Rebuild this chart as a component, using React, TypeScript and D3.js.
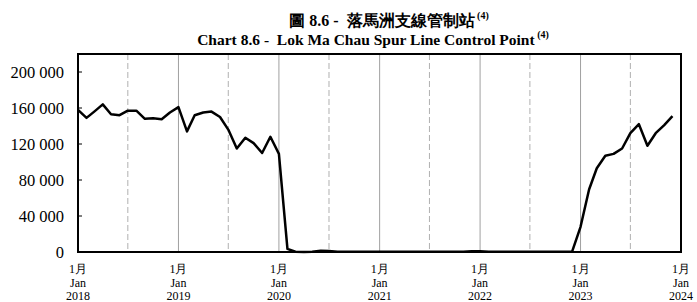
import * as d3 from "d3";

// monthly values, Jan 2018 - Dec 2023
const months = d3.timeMonths(new Date(2018, 0, 1), new Date(2024, 0, 1));
const values2018 = [158000, 149000, 156000, 164000, 153000, 152000, 157000, 157000, 148000, 148500, 147500, 155000];
const values2019 = [161000, 134000, 152000, 155000, 156000, 150000, 136000, 115000, 127000, 121000, 110000, 128000];
const values2020 = [109000, 3500, 300, 100, 400, 1500, 1000, 300, 200, 200, 200, 200];
const values2021 = [200, 200, 200, 200, 200, 200, 200, 200, 200, 200, 300, 800];
const values2022 = [800, 200, 200, 200, 200, 200, 200, 200, 200, 200, 200, 200];
const values2023 = [28000, 69500, 93000, 107000, 109000, 115000, 132000, 142000, 118000, 132000, 141000, 151000];
const values = [...values2018, ...values2019, ...values2020, ...values2021, ...values2022, ...values2023];

const yTicks = [0, 40000, 80000, 120000, 160000, 200000];
const xTickYears = [2018, 2019, 2020, 2021, 2022, 2023, 2024];

const W = 697;
const H = 302;
const left = 78;
const right = 681;
const top = 54;
const bottom = 252;

const serif = "Liberation Serif";

const fmt = (v: number) => d3.format(",")(v).replace(/,/g, " ");

export default function App() {
  const x = d3
    .scaleTime()
    .domain([new Date(2018, 0, 1), new Date(2024, 0, 1)])
    .range([left, right]);
  const y = d3.scaleLinear().domain([0, 220000]).range([bottom, top]);

  const line = d3
    .line<number>()
    .x((_d, i) => x(months[i]))
    .y((d) => y(d));

  const janLines = xTickYears.slice(1, -1).map((yr) => new Date(yr, 0, 1));
  const julLines = xTickYears.slice(0, -1).map((yr) => new Date(yr, 6, 1));

  return (
    <svg
      width={W}
      height={H}
      style={{ position: "absolute", left: 0, top: 0, background: "#fff", fontFamily: serif }}
    >
      <rect width={W} height={H} fill="#fff" />
      {/* title */}
      <text x={389} y={26} textAnchor="middle" fontWeight="bold" fontSize={16} style={{ fontFamily: serif }}>
        <tspan>{"圖 8.6 -\u00a0 落馬洲支線管制站"}</tspan>
        <tspan fontSize={10} dy={-7}>{"\u00a0(4)"}</tspan>
      </text>
      <text x={373} y={45} textAnchor="middle" fontWeight="bold" fontSize={15.5} style={{ fontFamily: serif }}>
        <tspan>{"Chart 8.6 -\u00a0 Lok Ma Chau Spur Line Control Point"}</tspan>
        <tspan fontSize={10} dy={-7}>{"\u00a0(4)"}</tspan>
      </text>

      {/* grid */}
      {julLines.map((d, i) => (
        <line
          key={"jul" + i}
          x1={x(d)}
          x2={x(d)}
          y1={top}
          y2={bottom}
          stroke="#b0b0b0"
          strokeDasharray="6,3"
          strokeWidth={1}
        />
      ))}
      {janLines.map((d, i) => (
        <line key={"jan" + i} x1={x(d)} x2={x(d)} y1={top} y2={bottom} stroke="#a0a0a0" strokeWidth={1} />
      ))}

      {/* y ticks */}
      {yTicks.map((t) => (
        <g key={t}>
          <line x1={left} x2={left + 4} y1={y(t)} y2={y(t)} stroke="#000" strokeWidth={1} />
          <text x={64} y={y(t)} dy="0.35em" textAnchor="end" fontSize={16.5} style={{ fontFamily: serif }}>
            {fmt(t)}
          </text>
        </g>
      ))}

      {/* x labels */}
      {xTickYears.map((yr) => {
        const px = x(new Date(yr, 0, 1));
        return (
          <g key={yr} fontSize={12} textAnchor="middle" style={{ fontFamily: serif }}>
            <text x={px} y={273}>1月</text>
            <text x={px} y={287}>Jan</text>
            <text x={px} y={300}>{yr}</text>
          </g>
        );
      })}

      {/* data */}
      <path d={line(values) || ""} fill="none" stroke="#000" strokeWidth={2.5} strokeLinejoin="round" />

      {/* frame */}
      <rect x={left} y={top} width={right - left} height={bottom - top} fill="none" stroke="#000" strokeWidth={2} />
    </svg>
  );
}
